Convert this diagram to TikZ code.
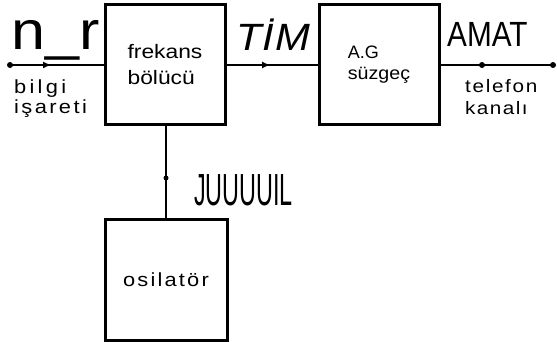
\documentclass[tikz,border=0pt]{standalone}
\usepackage{fontspec}
\setmainfont{Liberation Sans}
\usetikzlibrary{arrows.meta,decorations.markings}
% size / baseline skip, letter spacing in percent of the em, horizontal stretch
\newcommand\fsz[2]{\fontsize{#1}{#2}\selectfont}
\newcommand\spaced[1]{\addfontfeature{LetterSpace=#1}}
\newcommand\wide[2]{\scalebox{#1}[1]{#2}}

\begin{document}
\begin{tikzpicture}[x=1pt,y=-1pt,
  block/.style={draw, line width=3pt, minimum width=120pt, minimum height=120pt,
                inner sep=0pt, align=left},
  wire/.style={line width=1.7pt},
  dot/.style={circle, fill, inner sep=0pt, minimum size=6pt},
  midarrow/.style={postaction={decorate}, decoration={markings,
      mark=at position #1 with {\arrow{Latex[length=8pt,width=7pt]}}}},
  lbl/.style={anchor=base west, inner sep=0pt}]
\useasboundingbox (0,0) rectangle (557,342);

% blocks
\node[block, font=\fsz{19.5}{26}] (frek) at (165,65)
     {\wide{1.17}{frekans}\\\wide{1.17}{bölücü}};
\node[block, font=\fsz{18}{21}] (ag) at (379,65)
     {A.G\\\wide{1.09}{süzgeç}};
\node[block, minimum width=122pt, minimum height=121pt, font=\fsz{19}{19}\spaced{10}]
     (osc) at (166,279.5) {\wide{1.15}{osilatör}};

% terminals and junctions
\node[dot] (in) at (10,65) {};
\node[dot] (tap) at (482,65) {};
\node[dot] (out) at (553,65) {};
\node[dot, minimum size=5pt] (clk) at (166,178) {};

% connectors
\draw[wire, midarrow=0.44] (in.center) -- (frek.west);
\draw[wire, midarrow=0.48] (frek.east) -- (ag.west);
\draw[wire] (ag.east) -- (out.center);
\draw[wire] (osc.north) -- (osc.north |- frek.south);

% signal labels
\node[lbl, font=\fsz{54}{54}] (nr) at (11,50) {\wide{1.13}{n\_r}};
\node[lbl, font=\fsz{19}{19}\spaced{15}] (bilgi) at (14,94) {\wide{1.15}{bilgi}};
\node[lbl, font=\fsz{19}{19}\spaced{11}] (isareti) at (14,113.5) {\wide{1.15}{işareti}};
\node[lbl, font=\fsz{38}{38}\itshape\spaced{2}] (tim) at (236,51) {\wide{1.1}{TİM}};
\node[lbl, font=\fsz{35}{35}] (amat) at (447,47) {\wide{0.85}{AMAT}};
\node[lbl, font=\fsz{18}{18}\spaced{8}] (telefon) at (465,93) {\wide{1.15}{telefon}};
\node[lbl, font=\fsz{18}{18}\spaced{7}] (kanali) at (465,115) {\wide{1.15}{kanalı}};
\node[lbl, font=\fsz{45}{45}] (jul) at (194,205) {\wide{0.52}{JUUUUIL}};
\end{tikzpicture}
\end{document}
